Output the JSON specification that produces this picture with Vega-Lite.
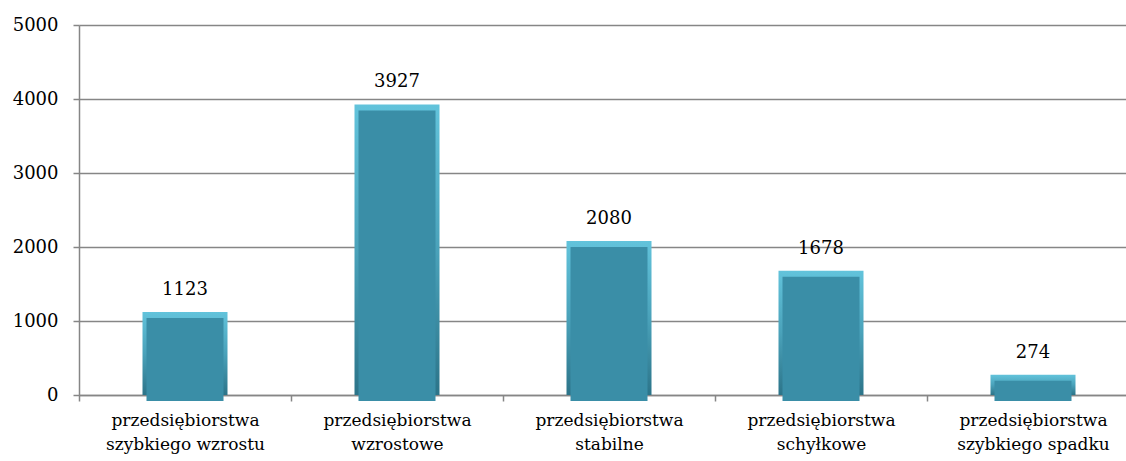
{
  "$schema": "https://vega.github.io/schema/vega-lite/v6.json",
  "autosize": "none",
  "width": 1047,
  "height": 370,
  "padding": {"left": 79, "top": 25, "right": 0, "bottom": 66},
  "background": "white",
  "config": {
    "view": {"stroke": null}
  },
  "data": {
    "values": [
      {"kategoria": "przedsiębiorstwa szybkiego wzrostu", "liczba": 1123},
      {"kategoria": "przedsiębiorstwa wzrostowe", "liczba": 3927},
      {"kategoria": "przedsiębiorstwa stabilne", "liczba": 2080},
      {"kategoria": "przedsiębiorstwa schyłkowe", "liczba": 1678},
      {"kategoria": "przedsiębiorstwa szybkiego spadku", "liczba": 274}
    ]
  },
  "encoding": {
    "x": {
      "field": "kategoria",
      "type": "nominal",
      "sort": null,
      "scale": {"range": [0, 1060], "paddingInner": 0, "paddingOuter": 0},
      "axis": {
        "title": null,
        "labelFont": "DejaVu Serif",
        "labelFontSize": 17,
        "labelColor": "#000000",
        "labelLimit": 400,
        "labelAngle": 0,
        "labelExpr": "[slice(datum.label, 0, indexof(datum.label, ' ')), slice(datum.label, indexof(datum.label, ' ') + 1)]",
        "labelLineHeight": 24,
        "labelPadding": 11,
        "labelBaseline": "top",
        "tickSize": 6,
        "tickColor": "#868686",
        "tickWidth": 1.5,
        "tickBand": "extent",
        "domainColor": "#868686",
        "domainWidth": 1.5,
        "grid": false
      }
    },
    "y": {
      "field": "liczba",
      "type": "quantitative",
      "scale": {"domain": [0, 5000], "nice": false},
      "axis": {
        "title": null,
        "labelFont": "DejaVu Serif",
        "labelFontSize": 18,
        "labelColor": "#000000",
        "format": "d",
        "values": [0, 1000, 2000, 3000, 4000, 5000],
        "grid": true,
        "gridColor": "#868686",
        "gridWidth": 1.5,
        "tickSize": 6,
        "tickColor": "#868686",
        "tickWidth": 1.5,
        "domainColor": "#868686",
        "domainWidth": 1.5,
        "labelPadding": 15
      }
    }
  },
  "layer": [
    {
      "mark": {
        "type": "bar",
        "size": 85,
        "color": {
          "gradient": "linear",
          "x1": 0, "y1": 0, "x2": 0, "y2": 1,
          "stops": [
            {"offset": 0, "color": "#62c3db"},
            {"offset": 0.5, "color": "#4aa2ba"},
            {"offset": 1, "color": "#2c7489"}
          ]
        }
      }
    },
    {
      "mark": {
        "type": "bar",
        "size": 77,
        "yOffset": 6,
        "y2Offset": -5,
        "color": "#3a8ea7"
      }
    },
    {
      "mark": {
        "type": "text",
        "baseline": "alphabetic",
        "dy": -17,
        "fontSize": 18,
        "font": "DejaVu Serif",
        "color": "#000000"
      },
      "encoding": {"text": {"field": "liczba", "type": "quantitative", "format": "d"}}
    }
  ]
}
